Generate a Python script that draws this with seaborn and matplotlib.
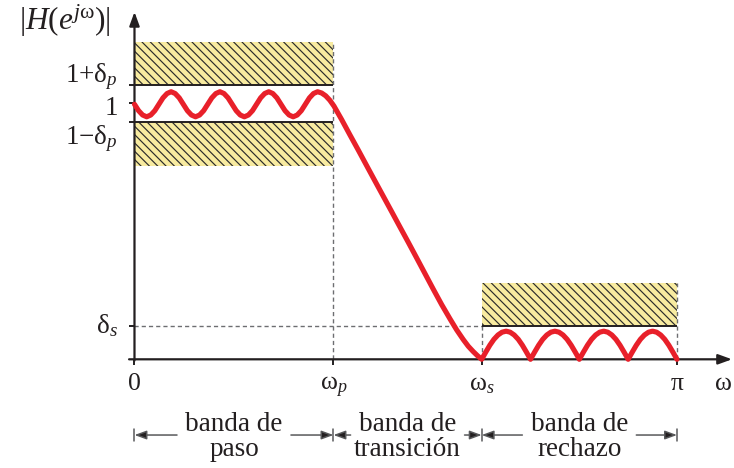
import matplotlib
matplotlib.use("Agg")
import matplotlib.pyplot as plt
import seaborn as sns
from matplotlib.patches import Rectangle

# frequency axis in units of pi, magnitude axis in linear units
W_P = 0.3668
W_S = 0.640
DELTA_P = 0.073
DELTA_S = 0.131
PASS_BOX_TOP = 1.239
PASS_BOX_BOTTOM = 0.757
STOP_BOX_TOP = 0.298

band_edges = [0.0, W_P, W_S, 1.0]
band_names = ["banda de\npaso", "banda de\ntransición", "banda de\nrechazo"]
x_tick_labels = ["0", r"$\mathrm{\omega}_p$", r"$\mathrm{\omega}_s$", r"$\mathrm{\pi}$"]

# |H(e^jw)|
passband_w = [0.0, 0.0075, 0.015, 0.0225, 0.03, 0.0375, 0.045, 0.0525, 0.06, 0.0675,
              0.075, 0.0825, 0.09, 0.0975, 0.105, 0.1125, 0.12, 0.1275, 0.135, 0.1425,
              0.15, 0.1575, 0.165, 0.1725, 0.18, 0.1875, 0.195, 0.2025, 0.21, 0.2175,
              0.225, 0.2325, 0.24, 0.2475, 0.255, 0.2625, 0.27, 0.2775, 0.285, 0.2925,
              0.30, 0.3075, 0.315, 0.3225, 0.33, 0.3375, 0.345, 0.3525, 0.36]
passband_h = [0.997, 0.972, 0.955, 0.948, 0.955, 0.972, 0.997, 1.022, 1.039, 1.046,
              1.039, 1.022, 0.997, 0.972, 0.955, 0.948, 0.955, 0.972, 0.997, 1.022,
              1.039, 1.046, 1.039, 1.022, 0.997, 0.972, 0.955, 0.948, 0.955, 0.972,
              0.997, 1.022, 1.039, 1.046, 1.039, 1.022, 0.997, 0.972, 0.955, 0.948,
              0.955, 0.972, 0.997, 1.022, 1.039, 1.046, 1.041, 1.030, 1.013]

transition_w = [0.3677, 0.3819, 0.3972, 0.4125, 0.4280, 0.4433, 0.4587, 0.4741,
                0.4894, 0.5048, 0.5202, 0.5355, 0.5508, 0.5662, 0.5816, 0.5939,
                0.6061, 0.6153, 0.6245, 0.6323, 0.640]
transition_h = [0.990, 0.937, 0.877, 0.818, 0.757, 0.697, 0.637, 0.577,
                0.517, 0.457, 0.396, 0.335, 0.274, 0.214, 0.158, 0.115,
                0.077, 0.051, 0.030, 0.014, 0.0]

stopband_w = [0.6475, 0.655, 0.6625, 0.67, 0.6775, 0.685, 0.6925, 0.70, 0.7075, 0.715, 0.7225, 0.73,
              0.7375, 0.745, 0.7525, 0.76, 0.7675, 0.775, 0.7825, 0.79, 0.7975, 0.805, 0.8125, 0.82,
              0.8275, 0.835, 0.8425, 0.85, 0.8575, 0.865, 0.8725, 0.88, 0.8875, 0.895, 0.9025, 0.91,
              0.9175, 0.925, 0.9325, 0.94, 0.9475, 0.955, 0.9625, 0.97, 0.9775, 0.985, 0.9925, 1.0]
stopband_h = [0.028, 0.055, 0.078, 0.095, 0.106, 0.110, 0.106, 0.095, 0.078, 0.055, 0.028, 0.0,
              0.028, 0.055, 0.078, 0.095, 0.106, 0.110, 0.106, 0.095, 0.078, 0.055, 0.028, 0.0,
              0.028, 0.055, 0.078, 0.095, 0.106, 0.110, 0.106, 0.095, 0.078, 0.055, 0.028, 0.0,
              0.028, 0.055, 0.078, 0.095, 0.106, 0.110, 0.106, 0.095, 0.078, 0.055, 0.028, 0.0]

RED = "#e8202a"
YELLOW = "#f8eba0"
INK = "#231f20"
GRAY = "#6d6e71"

sns.set_theme(style="white")
plt.rcParams["font.family"] = ["Liberation Serif", "DejaVu Serif"]
plt.rcParams["mathtext.fontset"] = "custom"
plt.rcParams["mathtext.rm"] = "Liberation Serif"
plt.rcParams["mathtext.it"] = "Liberation Serif:italic"
plt.rcParams["mathtext.bf"] = "Liberation Serif:bold"
plt.rcParams["hatch.linewidth"] = 0.85

fig = plt.figure(figsize=(7.34, 4.68), dpi=100)
ax = fig.add_axes([0, 0, 1, 1])

# tolerance regions
boxes = [
    (0.0, 1 + DELTA_P, W_P, PASS_BOX_TOP - (1 + DELTA_P)),
    (0.0, PASS_BOX_BOTTOM, W_P, (1 - DELTA_P) - PASS_BOX_BOTTOM),
    (W_S, DELTA_S, 1.0 - W_S, STOP_BOX_TOP - DELTA_S),
]
for x, y, w, h in boxes:
    ax.add_patch(Rectangle((x, y), w, h, facecolor=YELLOW, edgecolor="#2b2b2b",
                           lw=0, hatch="\\\\\\\\", zorder=1))

dash = dict(color=GRAY, lw=1.0, dashes=(3, 2.2), zorder=2)
ax.plot([W_P, W_P], [0, PASS_BOX_TOP], **dash)
ax.plot([W_S, W_S], [0, DELTA_S], **dash)
ax.plot([1.0, 1.0], [0, STOP_BOX_TOP], **dash)
ax.plot([0, W_S], [DELTA_S, DELTA_S], **dash)

solid = dict(color=INK, lw=1.4, zorder=3, solid_capstyle="butt")
ax.plot([-0.011, W_P], [1 + DELTA_P, 1 + DELTA_P], **solid)
ax.plot([-0.011, W_P], [1 - DELTA_P, 1 - DELTA_P], **solid)
ax.plot([W_S, 1.0], [DELTA_S, DELTA_S], **solid)
ax.plot([-0.011, 0], [1, 1], **solid)
ax.plot([-0.011, 0], [DELTA_S, DELTA_S], **solid)
for xe in band_edges:
    ax.plot([xe, xe], [0, -0.023], **solid)

# axes with arrow heads
axis_arrow = dict(arrowstyle="-|>,head_length=0.55,head_width=0.2", color=INK,
                  lw=1.6, shrinkA=0, shrinkB=0, mutation_scale=15)
ax.annotate("", xy=(0, 1.358), xytext=(0, -0.005), arrowprops=axis_arrow, zorder=3)
ax.annotate("", xy=(1.1014, 0), xytext=(-0.01, 0), arrowprops=axis_arrow, zorder=3)

# magnitude response
omega = passband_w + transition_w + stopband_w
mag = passband_h + transition_h + stopband_h
sns.lineplot(x=omega, y=mag, ax=ax, color=RED, lw=3.7, sort=False, estimator=None,
             zorder=4)
ax.lines[-1].set_solid_joinstyle("round")

# labels
for xe, lab in zip(band_edges, x_tick_labels):
    ax.text(xe, -0.120, lab, ha="center", va="baseline", fontsize=18.5, color=INK)
ax.text(1.0848, -0.120, r"$\mathrm{\omega}$", ha="center", va="baseline", fontsize=18.5, color=INK)

ylab = dict(ha="right", va="baseline", fontsize=19.5, color=INK)
ax.text(-0.0304, 1.085, r"$1{+}\mathrm{\delta}_p$", **ylab)
ax.text(-0.0304, 0.955, "1", **ylab)
ax.text(-0.0304, 0.840, r"$1{-}\mathrm{\delta}_p$", **ylab)
ax.text(-0.0304, 0.103, r"$\mathrm{\delta}_s$", **ylab)
ax.text(-0.128, 1.286, r"$|H(e^{j\mathrm{\omega}})|$", ha="center", va="baseline",
        fontsize=22.5, color=INK)

# band annotations
band_arrow = dict(arrowstyle="-|>,head_length=0.6,head_width=0.22", fc=INK, ec="#58595b",
                  lw=1.1, shrinkA=0, shrinkB=0, mutation_scale=12)
for xe in band_edges:
    ax.plot([xe, xe], [-0.272, -0.320], color="#58595b", lw=1.1)
for left, right, name in zip(band_edges[:-1], band_edges[1:], band_names):
    mid = (left + right) / 2
    ax.annotate("", xy=(left, -0.296), xytext=(mid - 0.105, -0.296), arrowprops=band_arrow)
    ax.annotate("", xy=(right, -0.296), xytext=(mid + 0.105, -0.296), arrowprops=band_arrow)
    ax.text(mid, -0.302, name, ha="center", va="center", fontsize=19.5, color=INK,
            linespacing=1.0)

ax.set_xlim(-0.2479, 1.1051)
ax.set_ylim(-0.4249, 1.4046)
ax.axis("off")

fig.savefig("out.png", dpi=100)
